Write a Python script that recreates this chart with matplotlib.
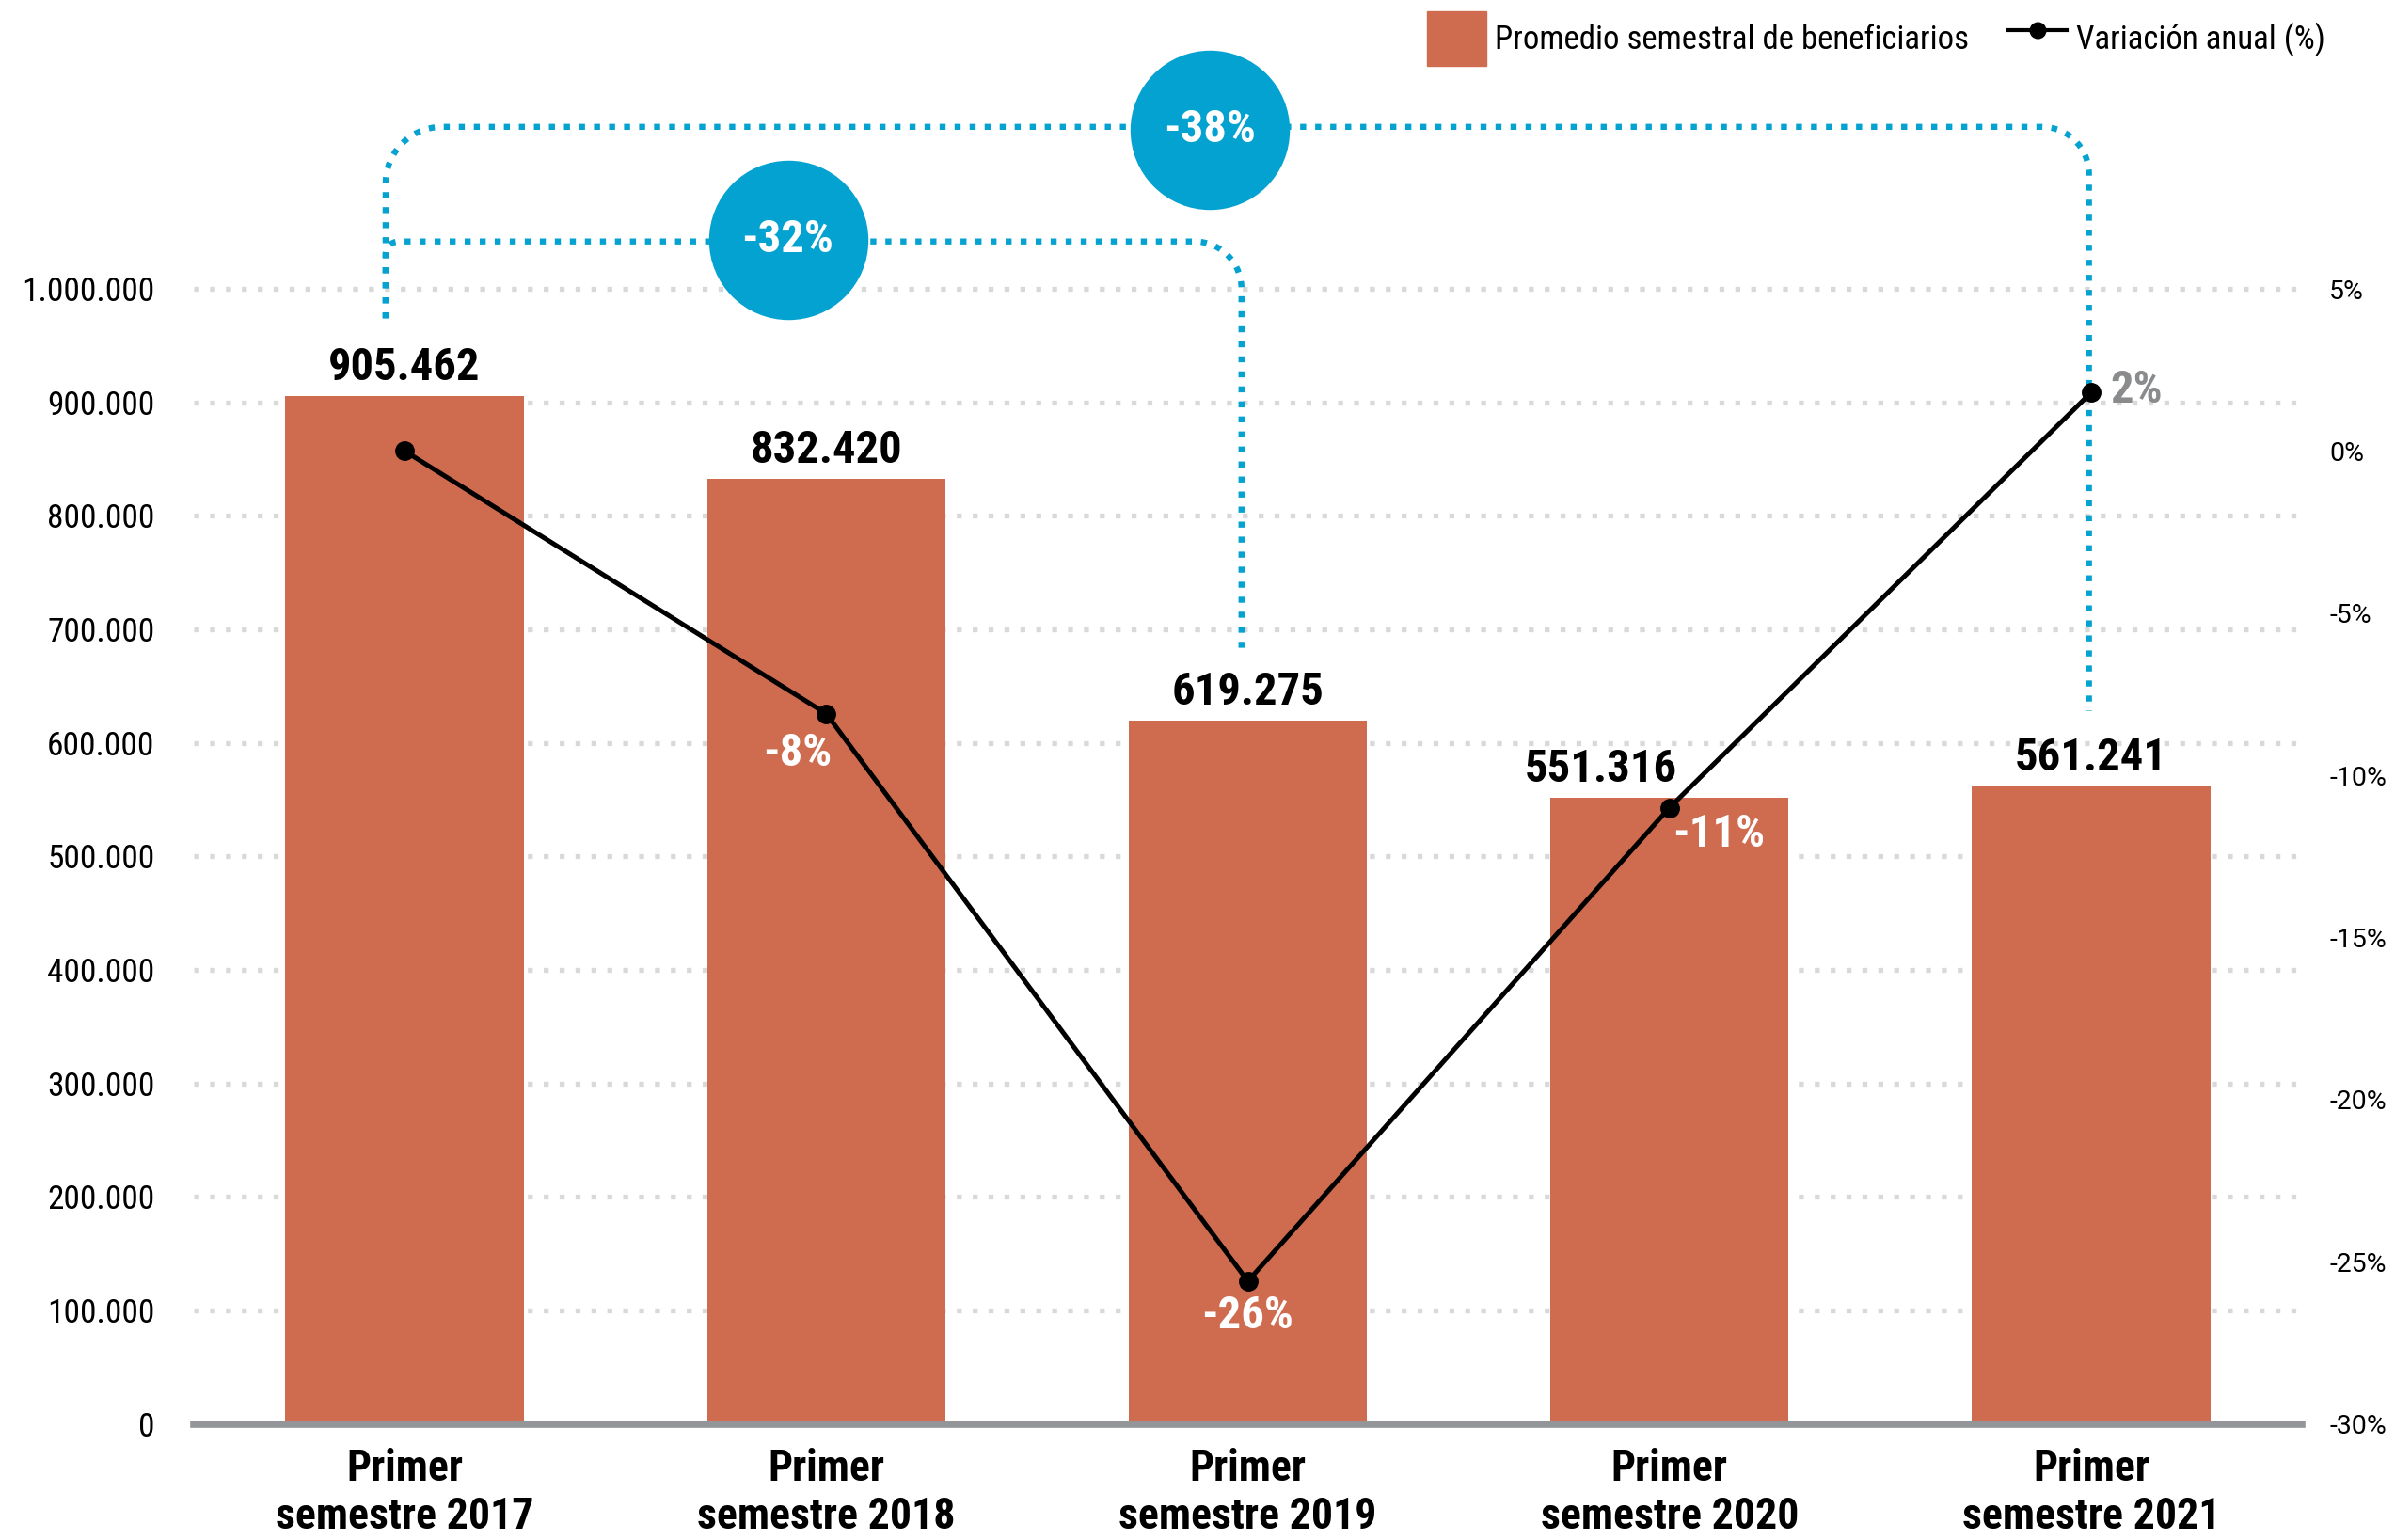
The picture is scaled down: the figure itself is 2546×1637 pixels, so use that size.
import numpy as np
import matplotlib
matplotlib.use("Agg")
import matplotlib.pyplot as plt
from matplotlib import font_manager as fm
from matplotlib.patches import Patch
from matplotlib.lines import Line2D

# Datos
categorias = ["Primer\nsemestre 2017", "Primer\nsemestre 2018", "Primer\nsemestre 2019",
              "Primer\nsemestre 2020", "Primer\nsemestre 2021"]
beneficiarios = [905462, 832420, 619275, 551316, 561241]
variacion = [0.0, -8.1, -25.6, -11.0, 1.8]
etiquetas_var = ["", "-8%", "-26%", "-11%", "2%"]
ticks_izq = [0, 100000, 200000, 300000, 400000, 500000, 600000, 700000, 800000, 900000, 1000000]
ticks_der = [-30, -25, -20, -15, -10, -5, 0, 5]
burbujas = ["-32%", "-38%"]


def elegir_fuente(nombres):
    for n in nombres:
        try:
            fm.findfont(fm.FontProperties(family=n), fallback_to_default=False)
            return n
        except ValueError:
            pass
    return "DejaVu Sans"


fuente = elegir_fuente(["Roboto Condensed", "Liberation Sans Narrow", "Roboto"])
fuente_normal = elegir_fuente(["Roboto", "DejaVu Sans"])
plt.rcParams["font.family"] = [fuente, "DejaVu Sans"]

COLOR_BARRA = "#CF6C50"
AZUL = "#04A2D0"
GRIS_GRID = "#D9D9D9"

W, H = 2546, 1637
fig = plt.figure(figsize=(W / 100, H / 100), dpi=100)
ax = fig.add_axes([206 / W, (H - 1513.6) / H, (2447 - 206) / W, 1513.6 / H])

x = np.arange(len(categorias))
ytop = 1513.6 / 1206.6 * 1e6

# Barras
ax.bar(x, beneficiarios, width=0.565, color=COLOR_BARRA, zorder=2)
ax.set_xlim(-0.5, 4.5)
ax.set_ylim(0, ytop)

# Rejilla punteada
for t in ticks_izq[1:]:
    ax.axhline(t, color=GRIS_GRID, lw=3.8, dashes=(1, 2.2), zorder=1)

ax.set_yticks(ticks_izq)
ax.set_yticklabels([f"{t:,}".replace(",", ".") for t in ticks_izq], fontsize=25.5)
ax.set_xticks(x)
ax.set_xticklabels(categorias, fontsize=33, fontweight="bold", linespacing=1.2)
ax.tick_params(axis="both", length=0)
ax.tick_params(axis="y", pad=30)
ax.tick_params(axis="x", pad=18)
for s in ["top", "right", "left"]:
    ax.spines[s].set_visible(False)
ax.spines["bottom"].set_color("#939598")
ax.spines["bottom"].set_linewidth(5.5)
ax.spines["bottom"].set_zorder(5)

# Etiquetas de valor
desplaz = [0, 0, 0, -73, 0]
for i, v in enumerate(beneficiarios):
    ax.annotate(f"{v:,}".replace(",", "."), (x[i], v), xytext=(desplaz[i] * 0.72, 5),
                textcoords="offset points", ha="center", va="bottom",
                fontsize=35, fontweight="bold", color="black")


# Llaves punteadas azules
def llave(x0, x1, yh, yb0, yb1, r0, r1):
    ppx = (2447 - 206) / 5.0          # px por unidad x
    ppy = 1206.6 / 1e6                # px por unidad y
    th = np.linspace(np.pi, np.pi / 2, 20)
    xs = [x0]
    ys = [yb0]
    xs += list(x0 + r0 / ppx + r0 / ppx * np.cos(th))
    ys += list(yh - r0 / ppy + r0 / ppy * np.sin(th))
    th2 = np.linspace(np.pi / 2, 0, 20)
    xs += list(x1 - r1 / ppx + r1 / ppx * np.cos(th2))
    ys += list(yh - r1 / ppy + r1 / ppy * np.sin(th2))
    xs.append(x1)
    ys.append(yb1)
    ax.plot(xs, ys, color=AZUL, lw=4.6, dashes=(1, 1.5), clip_on=False, zorder=3,
            solid_capstyle="butt", dash_capstyle="butt")


llave(-0.045, 3.995, 1.1427e6, 0.974e6, 0.628e6, 60, 50)
llave(-0.045, 1.985, 1.0417e6, 0.974e6, 0.678e6, 14, 50)

pos_burbuja = [(0.909, 1.043e6), (1.909, 1.140e6)]
for (bx, by), txt in zip(pos_burbuja, burbujas):
    ax.plot([bx], [by], "o", markersize=122, color=AZUL, markeredgewidth=0,
            clip_on=False, zorder=6)
    ax.text(bx, by, txt, ha="center", va="center", fontsize=35, fontweight="bold",
            color="white", zorder=7)

# Eje derecho: variación anual
ax2 = ax.twinx()
ax2.set_ylim(-30, -30 + 35 * ytop / 1e6)
ax2.set_yticks(ticks_der)
ax2.set_yticklabels([f"{t}%" for t in ticks_der], fontsize=20.5, family=fuente_normal)
ax2.tick_params(axis="y", length=0, pad=21)
for s in ax2.spines.values():
    s.set_visible(False)
ax2.plot(x, variacion, color="black", lw=3.6, marker="o", markersize=14, zorder=4)

offs = [None, (-22, -14, "center", "top", "white"),
        (0, -10, "center", "top", "white"),
        (38, -4, "center", "top", "white"),
        (15, 2, "left", "center", "#8A8B8D")]
for i, o in enumerate(offs):
    if o is None:
        continue
    dx, dy, ha, va, c = o
    ax2.annotate(etiquetas_var[i], (x[i], variacion[i]), xytext=(dx, dy),
                 textcoords="offset points", ha=ha, va=va, fontsize=35,
                 fontweight="bold", color=c)

# Leyenda
handles = [Patch(color=COLOR_BARRA, label="Promedio semestral de beneficiarios"),
           Line2D([], [], color="black", lw=3, marker="o", markersize=12,
                  label="Variación anual (%)")]
fig.legend(handles=handles, loc="center right", bbox_to_anchor=(2472 / W, 1 - 41 / H),
           ncol=2, frameon=False, fontsize=25, handlelength=1.8, handleheight=2.2,
           handletextpad=0.28, columnspacing=1.2, borderaxespad=0, borderpad=0)

fig.savefig("out.png", dpi=100)
